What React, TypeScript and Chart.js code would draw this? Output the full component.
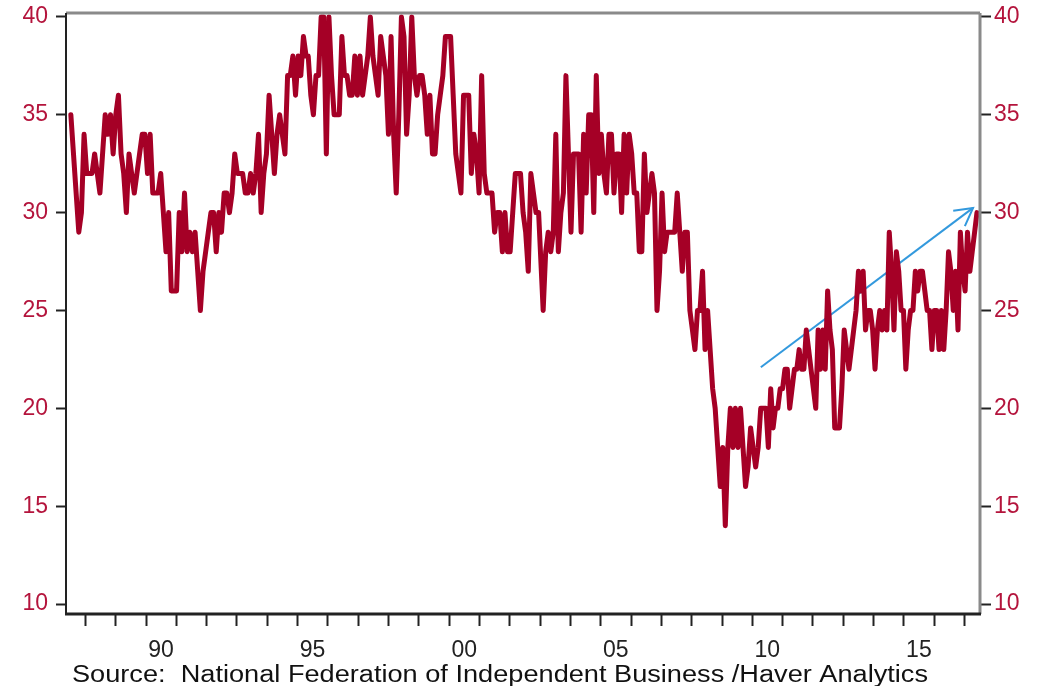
import React, { useEffect, useRef } from 'react';
import { Chart, registerables } from 'chart.js';

Chart.register(...registerables);

// ---- Data (monthly readings, split into four segments with their time spans) ----
const seg1Span = [1987.52, 1995.28];
const seg1Values = [
  35, 33, 31, 29, 30, 34, 32, 32, 32, 33, 32, 31, 33, 35, 34, 35, 33, 35, 36, 33,
  32, 30, 33, 32, 31, 32, 33, 34, 34, 32, 34, 31, 31, 31, 32, 30, 28, 30, 26, 26,
  26, 30, 28, 31, 28, 29, 28, 29, 27, 25, 27, 28, 29, 30, 30, 28, 30, 29, 31, 31,
  30, 31, 33, 32, 32, 32, 31, 31, 32, 31, 32, 34, 30, 32, 33, 36, 34, 32, 34, 35,
  34, 33, 37, 37, 38, 36, 38, 37, 39, 38,
];

const seg2Span = [1995.35, 2002.95];
const seg2Values = [
  38, 36, 35, 37, 37, 40, 40, 33, 40, 37, 35, 35, 35, 39, 37, 37, 36, 36, 38, 36,
  38, 36, 37, 38, 40, 38, 37, 36, 39, 38, 37, 34, 39, 34, 31, 35, 40, 39, 34, 36,
  40, 37, 36, 37, 37, 36, 34, 36, 33, 33, 35, 36, 37, 39, 39, 39, 36, 33, 32, 31,
  36, 36, 36, 32, 34, 33, 31, 37, 32, 31, 31, 31, 29, 30, 30, 28, 30, 28, 28, 30,
  32, 32, 32, 30, 29, 27, 32, 31, 30, 30,
];

const seg3Span = [2003.1, 2010.36];
const seg3Values = [
  25, 28, 29, 28, 29, 34, 28, 30, 31, 37, 33, 29, 33, 33, 33, 29, 34, 31, 35, 35,
  30, 37, 32, 34, 32, 31, 34, 34, 31, 33, 33, 30, 34, 31, 34, 33, 31, 31, 28, 28,
  33, 30, 31, 32, 31, 25, 27, 31, 28, 29, 29, 29, 29, 31, 29, 27, 29, 29, 25, 24,
  23, 25, 25, 27, 23, 25, 23, 21, 20, 18, 16, 18, 14, 18, 20, 18, 20, 18, 20, 18,
  16, 17, 19, 18, 17, 18, 20, 20,
];

const seg4Span = [2010.45, 2017.41];
const seg4Values = [
  20, 18, 21, 19, 20, 20, 21, 21, 22, 22, 20, 21, 22, 22, 23, 22, 22, 24, 23, 22,
  21, 20, 24, 22, 24, 22, 26, 24, 23, 19, 19, 19, 21, 24, 23, 22, 23, 24, 25, 27,
  26, 27, 24, 25, 25, 24, 22, 24, 25, 24, 25, 24, 29, 27, 24, 28, 27, 25, 25, 22,
  24, 25, 25, 27, 26, 27, 27, 26, 25, 25, 23, 25, 25, 23, 25, 23, 25, 28, 27, 25,
  27, 24, 29, 27, 26, 29, 27, 28, 29, 30,
];

// Trend arrow (start, end)
const arrowX = [2010.28, 2017.28];
const arrowY = [22.1, 30.24];

// Axes
const yTickValues = [10, 15, 20, 25, 30, 35, 40];
const xTickYears = [
  1988, 1989, 1990, 1991, 1992, 1993, 1994, 1995, 1996, 1997, 1998, 1999, 2000, 2001, 2002,
  2003, 2004, 2005, 2006, 2007, 2008, 2009, 2010, 2011, 2012, 2013, 2014, 2015, 2016, 2017,
];
const xLabelYears = [1990, 1995, 2000, 2005, 2010, 2015];
const xLabelTexts = ['90', '95', '00', '05', '10', '15'];

const sourceText = 'Source:  National Federation of Independent Business /Haver Analytics';

// ---- Styles ----
const LINE_COLOR = '#A50026';
const LABEL_RED = '#B4143C';
const ARROW_COLOR = '#3399DD';
const FONT_FAMILY = "'Liberation Sans', Arial, sans-serif";

function segPoints(span: number[], vals: number[]) {
  const n = vals.length;
  return vals.map((v, i) => ({ x: span[0] + (i * (span[1] - span[0])) / (n - 1), y: v }));
}

function zeroPadding(s: any) {
  s.paddingTop = 0;
  s.paddingBottom = 0;
  s.paddingLeft = 0;
  s.paddingRight = 0;
}

const framePlugin = {
  id: 'frame',
  afterDatasetsDraw(chart: any) {
    const { ctx, chartArea } = chart;
    const { left, right, top, bottom } = chartArea;
    ctx.save();
    ctx.strokeStyle = '#8a8a8a';
    ctx.lineWidth = 3;
    ctx.beginPath();
    ctx.moveTo(left, top);
    ctx.lineTo(right, top);
    ctx.stroke();
    ctx.beginPath();
    ctx.moveTo(right, top);
    ctx.lineTo(right, bottom);
    ctx.stroke();
    ctx.strokeStyle = '#222222';
    ctx.lineWidth = 2;
    ctx.beginPath();
    ctx.moveTo(left, top);
    ctx.lineTo(left, bottom);
    ctx.stroke();
    ctx.lineWidth = 3;
    ctx.beginPath();
    ctx.moveTo(left - 1, bottom);
    ctx.lineTo(right + 1, bottom);
    ctx.stroke();

    // arrow head on the trend arrow
    const xs = chart.scales.x;
    const ys = chart.scales.y;
    const x0 = xs.getPixelForValue(arrowX[0]);
    const y0 = ys.getPixelForValue(arrowY[0]);
    const x1 = xs.getPixelForValue(arrowX[1]);
    const y1 = ys.getPixelForValue(arrowY[1]);
    const ang = Math.atan2(y0 - y1, x0 - x1);
    const len = 20;
    const spread = (29 * Math.PI) / 180;
    ctx.strokeStyle = ARROW_COLOR;
    ctx.lineWidth = 2;
    ctx.beginPath();
    ctx.moveTo(x1 + len * Math.cos(ang + spread), y1 + len * Math.sin(ang + spread));
    ctx.lineTo(x1, y1);
    ctx.lineTo(x1 + len * Math.cos(ang - spread), y1 + len * Math.sin(ang - spread));
    ctx.stroke();
    ctx.restore();
  },
  afterDraw(chart: any) {
    const { ctx } = chart;
    ctx.save();
    ctx.font = `23px ${FONT_FAMILY}`;
    ctx.fillStyle = '#111111';
    ctx.textBaseline = 'alphabetic';
    ctx.textAlign = 'left';
    const w = ctx.measureText(sourceText).width;
    const target = 856;
    ctx.translate(72, 682);
    ctx.scale(target / w, 1);
    ctx.fillText(sourceText, 0, 0);
    ctx.restore();
  },
};

export default function App() {
  const canvasRef = useRef<HTMLCanvasElement | null>(null);

  useEffect(() => {
    document.body.style.margin = '0';
    const canvas = canvasRef.current;
    if (!canvas) return;

    const series = [
      ...segPoints(seg1Span, seg1Values),
      ...segPoints(seg2Span, seg2Values),
      ...segPoints(seg3Span, seg3Values),
      ...segPoints(seg4Span, seg4Values),
    ];
    const arrowPts = arrowX.map((x, i) => ({ x, y: arrowY[i] }));

    const tickFont = { family: FONT_FAMILY, size: 23, lineHeight: 1.2 };

    const chart = new Chart(canvas, {
      type: 'line',
      data: {
        datasets: [
          {
            data: series,
            borderColor: LINE_COLOR,
            borderWidth: 5,
            pointRadius: 0,
            tension: 0,
            borderJoinStyle: 'round',
            borderCapStyle: 'round',
            yAxisID: 'y',
          },
          {
            data: arrowPts,
            borderColor: ARROW_COLOR,
            borderWidth: 2,
            pointRadius: 0,
            tension: 0,
            yAxisID: 'y',
          },
        ],
      },
      options: {
        animation: false,
        responsive: false,
        maintainAspectRatio: false,
        devicePixelRatio: 1,
        layout: { padding: { top: 13, left: 0, right: 0, bottom: 0 } },
        plugins: {
          legend: { display: false },
          tooltip: { enabled: false },
          title: { display: false },
        },
        scales: {
          x: {
            type: 'linear',
            position: 'bottom',
            min: 1987.36,
            max: 2017.51,
            afterBuildTicks: (s: any) => {
              s.ticks = xTickYears.map((v) => ({ value: v }));
            },
            afterFit: (s: any) => {
              s.height = 72;
              zeroPadding(s);
            },
            border: { display: false },
            grid: {
              drawOnChartArea: false,
              drawTicks: true,
              tickLength: 12,
              tickColor: '#222222',
              tickWidth: 2,
            },
            ticks: {
              autoSkip: false,
              maxRotation: 0,
              minRotation: 0,
              labelOffset: 15,
              padding: 11,
              color: '#222222',
              font: tickFont,
              callback: (value: any) => {
                const idx = xLabelYears.indexOf(Number(value));
                return idx >= 0 ? xLabelTexts[idx] : '';
              },
            },
          },
          y: {
            type: 'linear',
            position: 'left',
            min: 9.49,
            max: 40.2,
            afterBuildTicks: (s: any) => {
              s.ticks = yTickValues.map((v) => ({ value: v }));
            },
            afterFit: (s: any) => {
              s.width = 66;
              zeroPadding(s);
            },
            border: { display: false },
            grid: {
              drawOnChartArea: false,
              drawTicks: true,
              tickLength: 10,
              tickColor: '#222222',
              tickWidth: 2,
            },
            ticks: {
              padding: 8,
              color: LABEL_RED,
              font: { family: FONT_FAMILY, size: 23, lineHeight: 1 },
            },
          },
          y2: {
            type: 'linear',
            position: 'right',
            min: 9.49,
            max: 40.2,
            afterBuildTicks: (s: any) => {
              s.ticks = yTickValues.map((v) => ({ value: v }));
            },
            afterFit: (s: any) => {
              s.width = 58;
              zeroPadding(s);
            },
            border: { display: false },
            grid: {
              drawOnChartArea: false,
              drawTicks: true,
              tickLength: 11,
              tickColor: '#222222',
              tickWidth: 2,
            },
            ticks: {
              padding: 3,
              color: LABEL_RED,
              font: { family: FONT_FAMILY, size: 23, lineHeight: 1 },
            },
          },
        },
      },
      plugins: [framePlugin],
    } as any);

    return () => {
      chart.destroy();
    };
  }, []);

  return (
    <div style={{ width: 1038, height: 686, background: '#ffffff' }}>
      <canvas ref={canvasRef} width={1038} height={686} style={{ display: 'block' }} />
    </div>
  );
}
